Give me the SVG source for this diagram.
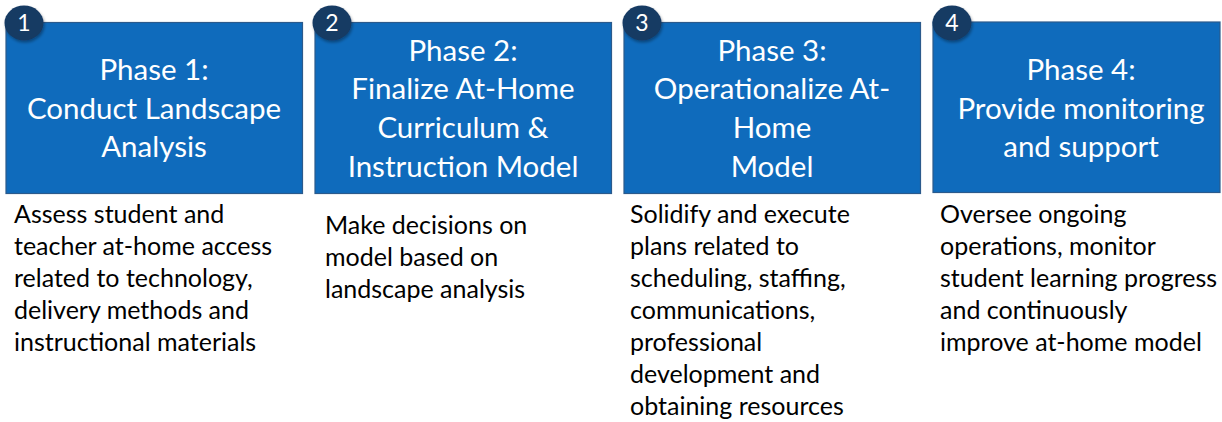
<svg xmlns="http://www.w3.org/2000/svg" width="1222" height="422" viewBox="0 0 1222 422">
<defs>
<filter id="sh" x="-30%" y="-30%" width="160%" height="160%">
<feDropShadow dx="1" dy="2" stdDeviation="1.5" flood-color="#000" flood-opacity="0.35"/>
</filter>
<style>
.box{fill:#0F6BBC;stroke:#2B5A8C;stroke-width:1.2}
.badge{fill:#163A63;filter:url(#sh)}
.num{font-family:Lato,"Open Sans",sans-serif;font-size:23px;fill:#fff;text-anchor:middle}
.title{font-family:Lato,"Open Sans",sans-serif;font-size:29.5px;fill:#fff;text-anchor:middle}
.desc{font-family:Lato,"Open Sans",sans-serif;font-size:25px;fill:#000}
</style>
</defs>
<rect width="1222" height="422" fill="#fff"/>
<g id="phase1">
<rect class="box" x="6" y="22.5" width="296.5" height="171"/>
<ellipse class="badge" cx="24" cy="23" rx="19.5" ry="17.5"/>
<text class="num" x="24" y="31">1</text>
<text class="title" x="154" y="80">Phase 1:</text>
<text class="title" x="154" y="119">Conduct Landscape</text>
<text class="title" x="154" y="157">Analysis</text>
<text class="desc" x="14"><tspan x="14" y="223">Assess student and</tspan><tspan x="14" y="255">teacher at-home access</tspan><tspan x="14" y="287">related to technology,</tspan><tspan x="14" y="319">delivery methods and</tspan><tspan x="14" y="351">instructional materials</tspan></text>
</g>
<g id="phase2">
<rect class="box" x="315" y="22.5" width="296.5" height="171"/>
<ellipse class="badge" cx="332" cy="23" rx="19.5" ry="17.5"/>
<text class="num" x="332" y="31">2</text>
<text class="title" x="463" y="61">Phase 2:</text>
<text class="title" x="463" y="99">Finalize At-Home</text>
<text class="title" x="463" y="138">Curriculum &amp;</text>
<text class="title" x="463" y="177">Instruction Model</text>
<text class="desc"><tspan x="325" y="234">Make decisions on</tspan><tspan x="325" y="266">model based on</tspan><tspan x="325" y="298">landscape analysis</tspan></text>
</g>
<g id="phase3">
<rect class="box" x="624" y="22.5" width="296.5" height="171"/>
<ellipse class="badge" cx="642" cy="23" rx="19.5" ry="17.5"/>
<text class="num" x="642" y="31">3</text>
<text class="title" x="772" y="61">Phase 3:</text>
<text class="title" x="772" y="99">Operationalize At-</text>
<text class="title" x="772" y="138">Home</text>
<text class="title" x="772" y="177">Model</text>
<text class="desc"><tspan x="630" y="223">Solidify and execute</tspan><tspan x="630" y="255">plans related to</tspan><tspan x="630" y="287">scheduling, staffing,</tspan><tspan x="630" y="319">communications,</tspan><tspan x="630" y="351">professional</tspan><tspan x="630" y="383">development and</tspan><tspan x="630" y="415">obtaining resources</tspan></text>
</g>
<g id="phase4">
<rect class="box" x="933" y="22" width="287" height="170.5"/>
<ellipse class="badge" cx="952" cy="23" rx="19.5" ry="17.5"/>
<text class="num" x="952" y="31">4</text>
<text class="title" x="1081" y="80">Phase 4:</text>
<text class="title" x="1081" y="119">Provide monitoring</text>
<text class="title" x="1081" y="157">and support</text>
<text class="desc"><tspan x="940" y="223">Oversee ongoing</tspan><tspan x="940" y="255">operations, monitor</tspan><tspan x="940" y="287">student learning progress</tspan><tspan x="940" y="319">and continuously</tspan><tspan x="940" y="351">improve at-home model</tspan></text>
</g>
<g id="connectors"/>
</svg>
